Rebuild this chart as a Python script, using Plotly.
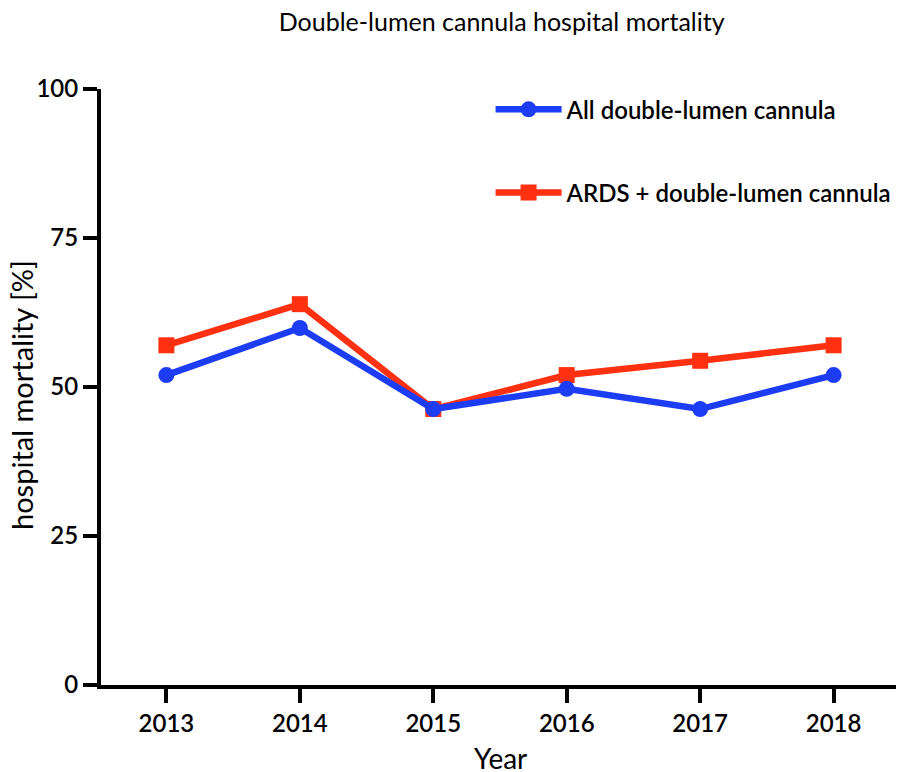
import plotly.graph_objects as go

years = [2013, 2014, 2015, 2016, 2017, 2018]
all_dlc = [52.0, 59.9, 46.3, 49.7, 46.3, 52.0]
ards_dlc = [57.0, 63.9, 46.3, 52.0, 54.4, 57.0]
y_ticks = [0, 25, 50, 75, 100]

BLUE = "#1C3DF4"
RED = "#FF3111"
FONT = "Lato"

fig = go.Figure()
fig.add_trace(go.Scatter(
    x=years, y=ards_dlc, name="ARDS + double-lumen cannula",
    mode="lines+markers", line=dict(color=RED, width=6.5),
    marker=dict(symbol="square", size=16, color=RED),
    legendrank=2, legendgroup="b", cliponaxis=False))
fig.add_trace(go.Scatter(
    x=years, y=all_dlc, name="All double-lumen cannula",
    mode="lines+markers", line=dict(color=BLUE, width=6.5),
    marker=dict(symbol="circle", size=16, color=BLUE),
    legendrank=1, legendgroup="a", cliponaxis=False))

fig.update_layout(
    width=896, height=764,
    margin=dict(l=93, r=5, t=81, b=87, autoexpand=False),
    paper_bgcolor="white", plot_bgcolor="white",
    font=dict(family=FONT, color="black"),
    title=dict(text="Double-lumen cannula hospital mortality",
               x=0.551, xanchor="center", y=0.982, yanchor="middle",
               font=dict(size=25, family=FONT), automargin=False),
    legend=dict(x=0.5386, xref="container", y=1.003, xanchor="left", yanchor="top",
                font=dict(size=24, family=FONT, weight=600),
                tracegroupgap=49, bgcolor="rgba(0,0,0,0)",
                itemwidth=66),
    showlegend=True,
)
fig.update_xaxes(
    range=[2012.51, 2018.49], tickvals=years,
    ticktext=[str(y) for y in years],
    showline=True, linecolor="black", linewidth=4,
    ticks="outside", ticklen=14, tickwidth=4, tickcolor="black",
    showgrid=False, zeroline=False, automargin=False,
    tickfont=dict(size=24, family=FONT, weight=600),
)
fig.update_yaxes(
    range=[0, 100], tickvals=y_ticks,
    showline=True, linecolor="black", linewidth=4,
    ticks="outside", ticklen=14, tickwidth=4, tickcolor="black",
    showgrid=False, zeroline=False, automargin=False,
    tickfont=dict(size=24, family=FONT, weight=600),
)
# axis titles placed as annotations for exact positioning
fig.add_annotation(text="Year", xref="paper", yref="paper", x=0.5, y=0,
                   xanchor="center", yanchor="middle", yshift=-73,
                   showarrow=False, font=dict(size=28, family=FONT))
fig.add_annotation(text="hospital mortality [%]", xref="paper", yref="paper",
                   x=0, y=0.5, xanchor="center", yanchor="middle",
                   xshift=-80, yshift=-8, textangle=-90,
                   showarrow=False, font=dict(size=29, family=FONT))

fig.write_html("out.html")
